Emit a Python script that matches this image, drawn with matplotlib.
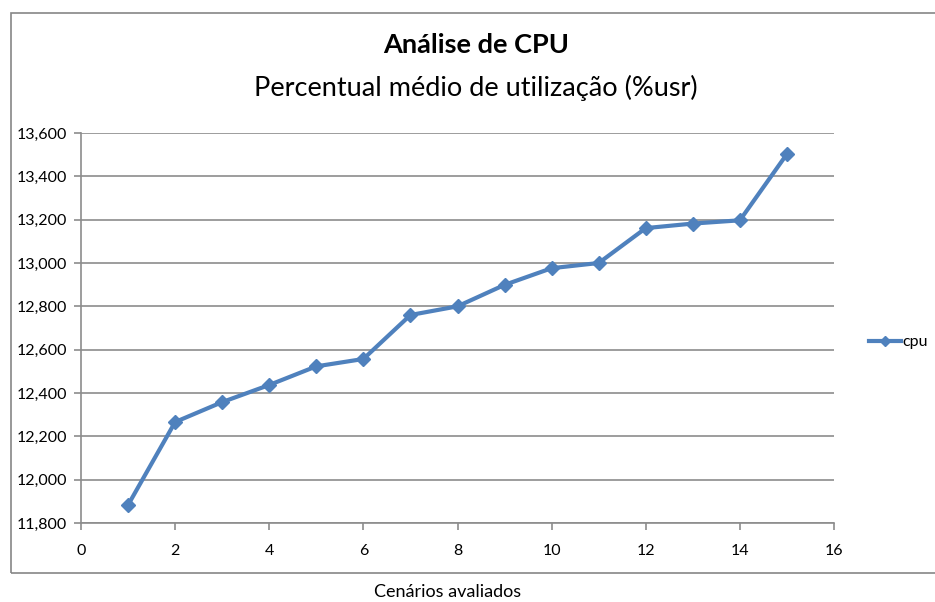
import matplotlib
matplotlib.use("Agg")
import matplotlib.pyplot as plt
from matplotlib.patches import Rectangle

scenarios = list(range(1, 16))
cpu = [11883, 12266, 12358, 12437, 12523, 12557, 12760, 12800, 12899, 12976,
       13000, 13161, 13182, 13197, 13503]
yticks = [11800, 12000, 12200, 12400, 12600, 12800, 13000, 13200, 13400, 13600]
xticks = [0, 2, 4, 6, 8, 10, 12, 14, 16]

plt.rcParams['font.family'] = ['Lato', 'DejaVu Sans']

fig = plt.figure(figsize=(9.35, 6.02), dpi=100)
fig.patches.append(Rectangle((11/935, 1-573/602), 1.2, (573-13)/602, transform=fig.transFigure,
                             fill=False, edgecolor='#868686', linewidth=1.2))

ax = fig.add_axes([81/935, 1-523/602, (834-81)/935, 390/602])
line_color = '#4F81BD'
ax.plot(scenarios, cpu, color=line_color, linewidth=3, marker='D', markersize=7,
        markeredgecolor=line_color, label='cpu')
ax.set_xlim(0, 16)
ax.set_ylim(11800, 13600)
ax.set_xticks(xticks)
ax.set_yticks(yticks)
ax.set_yticklabels([f"{v:,}" for v in yticks])
ax.yaxis.grid(True, color='#8c8c8c', linewidth=1.2)
ax.set_axisbelow(True)
for s in ['top', 'right']:
    ax.spines[s].set_visible(False)
for s in ['left', 'bottom']:
    ax.spines[s].set_color('#8c8c8c')
    ax.spines[s].set_linewidth(1.2)
ax.tick_params(axis='both', colors='#8c8c8c', labelcolor='black', labelsize=11.5,
               length=5, width=1.2, direction='out')
ax.tick_params(axis='x', pad=10)
ax.tick_params(axis='y', pad=5)

fig.text(476/935, 1-45/602, 'Análise de CPU', ha='center', va='center', fontsize=19.5, fontweight='bold')
fig.text(476/935, 1-88/602, 'Percentual médio de utilização (%usr)', ha='center', va='center', fontsize=19.5)
fig.text(448/935, 1-592/602, 'Cenários avaliados', ha='center', va='center', fontsize=13)

leg = ax.legend(loc='center left', bbox_to_anchor=(1.046, 0.464), frameon=False, fontsize=11.5,
                handlelength=2.0, handletextpad=0.1, borderaxespad=0, borderpad=0,
                markerscale=0.8)

fig.savefig('out.png', dpi=100)
